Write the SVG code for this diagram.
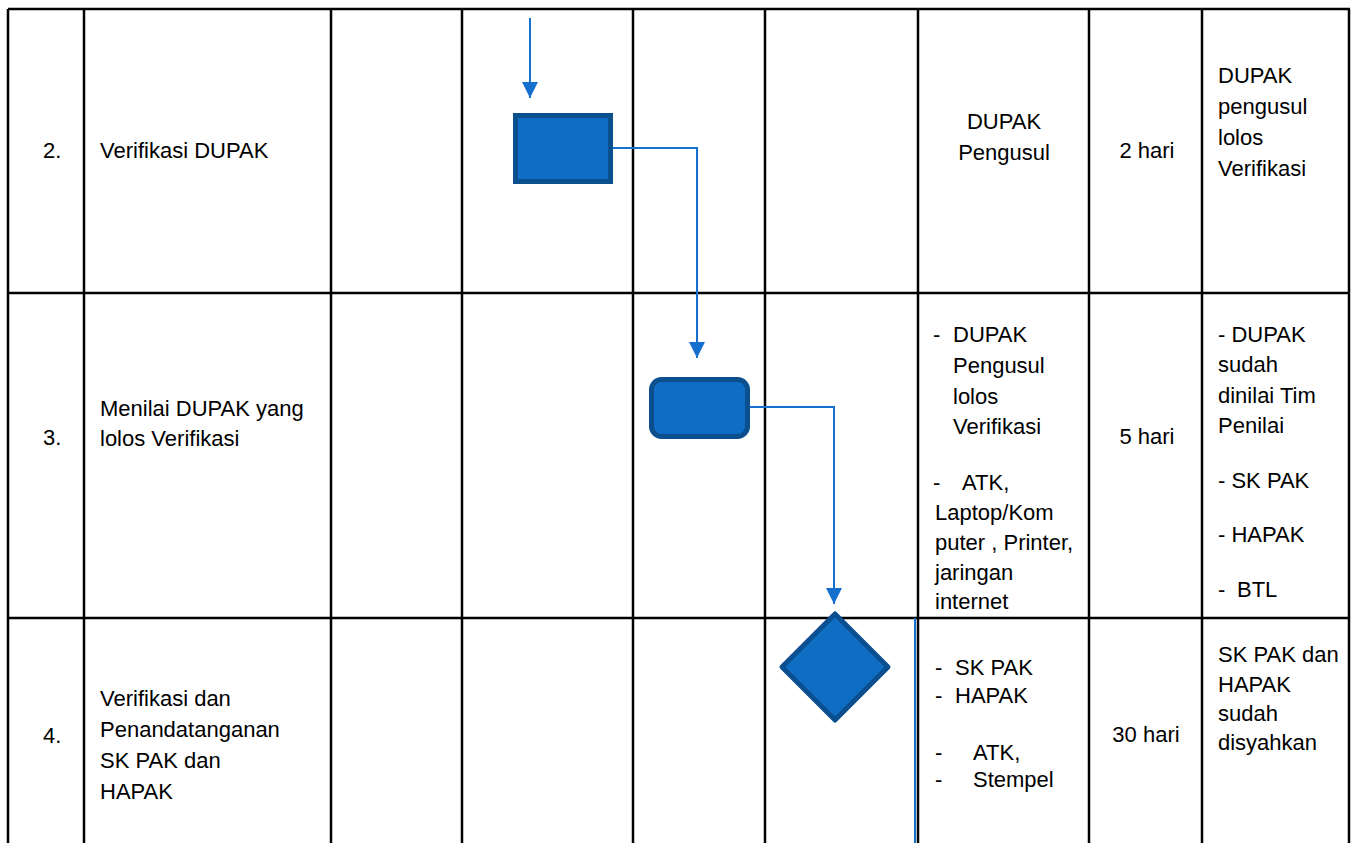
<svg xmlns="http://www.w3.org/2000/svg" width="1356" height="843" viewBox="0 0 1356 843">
<style>
.grid{stroke:#000;stroke-width:2.5;fill:none}
.t{font-family:"Liberation Sans",Arial,sans-serif;font-size:22px;fill:#000}
.c{text-anchor:middle}
.conn{stroke:#1570CD;stroke-width:2;fill:none}
.shape{fill:#0F6DC3;stroke:#0B4F8F;stroke-width:5}
</style>
<defs>
<marker id="arr" markerUnits="userSpaceOnUse" markerWidth="16" markerHeight="16" refX="16" refY="8" orient="auto">
<path d="M0,0 L16,8 L0,16 z" fill="#1570CD"/>
</marker>
</defs>
<rect width="1356" height="843" fill="#fff"/>
<g id="table" class="grid">
<line x1="8" y1="9" x2="1350" y2="9"/>
<line x1="8" y1="293" x2="1350" y2="293"/>
<line x1="8" y1="618" x2="1350" y2="618"/>
<line x1="8" y1="9" x2="8" y2="843"/>
<line x1="84" y1="9" x2="84" y2="843"/>
<line x1="331" y1="9" x2="331" y2="843"/>
<line x1="462" y1="9" x2="462" y2="843"/>
<line x1="633" y1="9" x2="633" y2="843"/>
<line x1="765" y1="9" x2="765" y2="843"/>
<line x1="918" y1="9" x2="918" y2="843"/>
<line x1="1089" y1="9" x2="1089" y2="843"/>
<line x1="1202" y1="9" x2="1202" y2="843"/>
<line x1="1349" y1="9" x2="1349" y2="843"/>
</g>
<g id="row2-text">
<text class="t" x="43" y="158">2.</text>
<text class="t" x="100" y="158">Verifikasi DUPAK</text>
<text class="t c" x="1004" y="129">DUPAK</text>
<text class="t c" x="1004" y="160">Pengusul</text>
<text class="t c" x="1147" y="158">2 hari</text>
<text class="t" x="1218" y="83">DUPAK</text>
<text class="t" x="1218" y="114">pengusul</text>
<text class="t" x="1218" y="145">lolos</text>
<text class="t" x="1218" y="176">Verifikasi</text>
</g>
<g id="row3-text">
<text class="t" x="43" y="445">3.</text>
<text class="t" x="100" y="416">Menilai DUPAK yang</text>
<text class="t" x="100" y="446">lolos Verifikasi</text>
<text class="t" x="933" y="342">-</text>
<text class="t" x="953" y="342">DUPAK</text>
<text class="t" x="953" y="373">Pengusul</text>
<text class="t" x="953" y="404">lolos</text>
<text class="t" x="953" y="434">Verifikasi</text>
<text class="t" x="933" y="490">-</text>
<text class="t" x="962" y="490">ATK,</text>
<text class="t" x="935" y="520">Laptop/Kom</text>
<text class="t" x="935" y="550">puter , Printer,</text>
<text class="t" x="935" y="580">jaringan</text>
<text class="t" x="935" y="609">internet</text>
<text class="t c" x="1147" y="444">5 hari</text>
<text class="t" x="1218" y="342">- DUPAK</text>
<text class="t" x="1218" y="372">sudah</text>
<text class="t" x="1218" y="403">dinilai Tim</text>
<text class="t" x="1218" y="433">Penilai</text>
<text class="t" x="1218" y="488">- SK PAK</text>
<text class="t" x="1218" y="542">- HAPAK</text>
<text class="t" x="1218" y="597">-</text>
<text class="t" x="1237" y="597">BTL</text>
</g>
<g id="row4-text">
<text class="t" x="43" y="743">4.</text>
<text class="t" x="100" y="706">Verifikasi dan</text>
<text class="t" x="100" y="737">Penandatanganan</text>
<text class="t" x="100" y="768">SK PAK dan</text>
<text class="t" x="100" y="799">HAPAK</text>
<text class="t" x="935" y="675">-</text>
<text class="t" x="955" y="675">SK PAK</text>
<text class="t" x="935" y="703">-</text>
<text class="t" x="955" y="703">HAPAK</text>
<text class="t" x="935" y="760">-</text>
<text class="t" x="973" y="760">ATK,</text>
<text class="t" x="935" y="787">-</text>
<text class="t" x="973" y="787">Stempel</text>
<text class="t c" x="1146" y="742">30 hari</text>
<text class="t" x="1218" y="662">SK PAK dan</text>
<text class="t" x="1218" y="692">HAPAK</text>
<text class="t" x="1218" y="721">sudah</text>
<text class="t" x="1218" y="750">disyahkan</text>
</g>
<g id="connectors">
<line class="conn" x1="530" y1="18" x2="530" y2="98" marker-end="url(#arr)"/>
<polyline class="conn" points="613,148 697,148 697,358" marker-end="url(#arr)"/>
<polyline class="conn" points="750,407 834,407 834,604" marker-end="url(#arr)"/>
<line class="conn" x1="915" y1="618" x2="915" y2="843"/>
</g>
<g id="node-verifikasi">
<rect class="shape" x="515.5" y="115.5" width="95" height="66"/>
</g>
<g id="node-menilai">
<rect class="shape" x="651.5" y="379.5" width="96" height="57" rx="10" ry="10"/>
</g>
<g id="node-keputusan">
<polygon class="shape" points="835,614 888,667 835,720 782,667" stroke-linejoin="round"/>
</g>
</svg>
